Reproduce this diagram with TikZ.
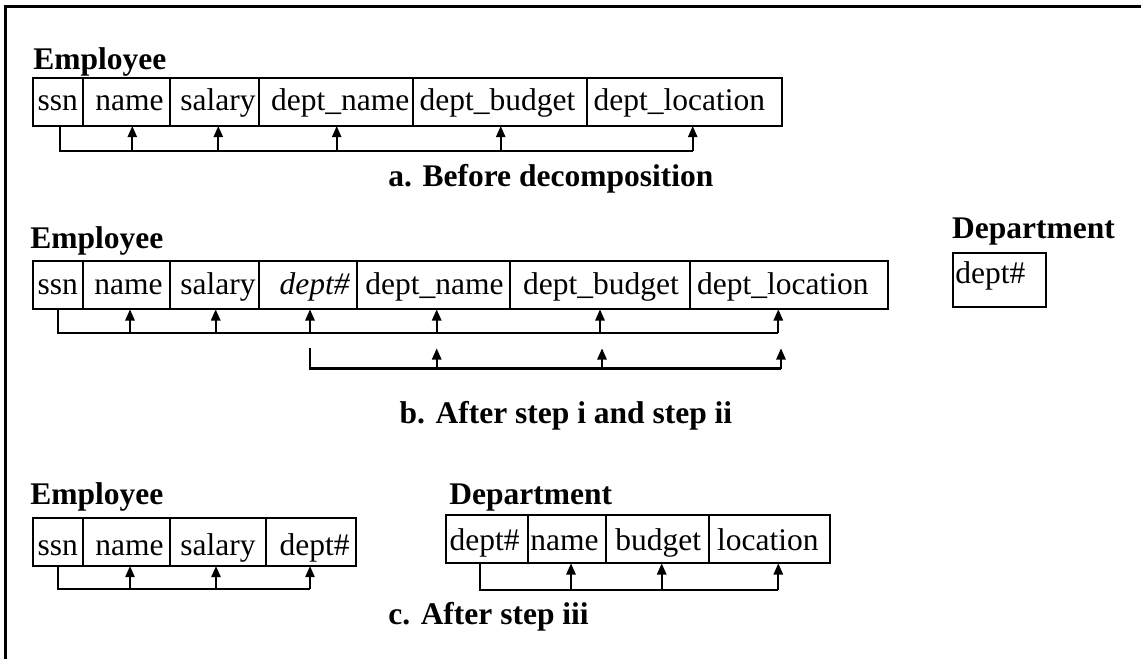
\documentclass[tikz,border=0pt]{standalone}
\usepackage{fontspec}
\setmainfont{Liberation Serif}
\usetikzlibrary{fit,arrows.meta}
\begin{document}
\begin{tikzpicture}[x=0.5pt,y=-0.5pt,
 cell/.style={draw, line width=1.1pt, inner sep=0pt},
 txt/.style={inner sep=0pt, anchor=base west, font=\fontsize{15.75}{18}\selectfont},
 ttl/.style={inner sep=0pt, anchor=base west, font=\fontsize{15.75}{18}\selectfont\bfseries},
 fd/.style={line width=1.05pt},
 fda/.style={line width=1.05pt, -{Triangle[width=4.6pt,length=5.6pt]}},
 framestyle/.style={line width=1.5pt}]
\useasboundingbox (0,0) rectangle (1141,659);
\draw[framestyle] (5,659) -- (5,6) -- (1141,6);

% ---------- a ----------
\node[ttl] (ta) at (33,69.3) {Employee};
\node[cell, fit={(33.3,78) (83.3,126)}] (a1) {};
\node[cell, fit={(83.3,78) (170,126)}] (a2) {};
\node[cell, fit={(170,78) (259.3,126)}] (a3) {};
\node[cell, fit={(259.3,78) (412.7,126)}] (a4) {};
\node[cell, fit={(412.7,78) (586.7,126)}] (a5) {};
\node[cell, fit={(586.7,78) (781.7,126)}] (a6) {};
\node[txt] (xa1) at (37.3,110.7) {ssn};
\node[txt] (xa2) at (95,110.7) {name};
\node[txt] (xa3) at (180,110.7) {salary};
\node[txt] (xa4) at (270.7,110.7) {dept\_name};
\node[txt] (xa5) at (419.3,110.7) {dept\_budget};
\node[txt] (xa6) at (593.3,110.7) {dept\_location};
\coordinate (abus) at (60,151);
\coordinate (pa1) at (60,126);
\coordinate (pa2) at (132.3,126);
\coordinate (pa3) at (218.3,126);
\coordinate (pa4) at (336.7,126);
\coordinate (pa5) at (500.7,126);
\coordinate (pa6) at (692.7,126);
\draw[fd] (pa1) -- (pa1 |- abus) -- (pa6 |- abus);
\foreach \i in {2,...,6} \draw[fda] (pa\i |- abus) -- (pa\i);
\node[ttl] (capa) at (388,186.7) {a. Before decomposition};

% ---------- b ----------
\node[ttl] (tb) at (30,248.3) {Employee};
\node[cell, fit={(33.3,261) (83.3,309.3)}] (b1) {};
\node[cell, fit={(83.3,261) (170,309.3)}] (b2) {};
\node[cell, fit={(170,261) (259.3,309.3)}] (b3) {};
\node[cell, fit={(259.3,261) (356.7,309.3)}] (b4) {};
\node[cell, fit={(356.7,261) (510,309.3)}] (b5) {};
\node[cell, fit={(510,261) (690,309.3)}] (b6) {};
\node[cell, fit={(690,261) (887.7,309.3)}] (b7) {};
\node[txt] (xb1) at (37.3,294) {ssn};
\node[txt] (xb2) at (94,294) {name};
\node[txt] (xb3) at (180,294) {salary};
\node[txt] (xb4) at (279.3,294) {\itshape dept\#};
\node[txt] (xb5) at (365,294) {dept\_name};
\node[txt] (xb6) at (522.7,294) {dept\_budget};
\node[txt] (xb7) at (696.7,294) {dept\_location};
\coordinate (bbus) at (58.3,333.3);
\coordinate (pb1) at (58.3,309.3);
\coordinate (pb2) at (130,309.3);
\coordinate (pb3) at (215.7,309.3);
\coordinate (pb4) at (310,309.3);
\coordinate (pb5) at (436.7,309.3);
\coordinate (pb6) at (600,309.3);
\coordinate (pb7) at (778.3,309.3);
\draw[fd] (pb1) -- (pb1 |- bbus) -- (pb7 |- bbus);
\foreach \i in {2,...,7} \draw[fda] (pb\i |- bbus) -- (pb\i);
\coordinate (cbus) at (310,368.5);
\coordinate (qb1) at (310,348.3);
\coordinate (qb2) at (436.7,348.3);
\coordinate (qb3) at (602,348.3);
\coordinate (qb4) at (781,348.3);
\draw[fd] (qb1) -- (qb1 |- cbus) -- (qb4 |- cbus);
\foreach \i in {2,...,4} \draw[fda] (qb\i |- cbus) -- (qb\i);
\node[ttl] (capb) at (399.3,423.3) {b. After step i and step ii};

\node[ttl] (td) at (951.7,238.3) {Department};
\node[cell, fit={(952.7,252.7) (1045.7,307.3)}] (d1) {};
\node[txt] (xd1) at (955,283) {dept\#};

% ---------- c ----------
\node[ttl] (tc) at (30,504) {Employee};
\node[cell, fit={(33.3,517.7) (83.3,566)}] (c1) {};
\node[cell, fit={(83.3,517.7) (170,566)}] (c2) {};
\node[cell, fit={(170,517.7) (266,566)}] (c3) {};
\node[cell, fit={(266,517.7) (356,566)}] (c4) {};
\node[txt] (xc1) at (37.3,555) {ssn};
\node[txt] (xc2) at (95,555) {name};
\node[txt] (xc3) at (180,555) {salary};
\node[txt] (xc4) at (279.3,555) {dept\#};
\coordinate (ebus) at (57.7,589.3);
\coordinate (pc1) at (57.7,566);
\coordinate (pc2) at (130,566);
\coordinate (pc3) at (216,566);
\coordinate (pc4) at (310,566);
\draw[fd] (pc1) -- (pc1 |- ebus) -- (pc4 |- ebus);
\foreach \i in {2,...,4} \draw[fda] (pc\i |- ebus) -- (pc\i);

\node[ttl] (te) at (449,504) {Department};
\node[cell, fit={(446,515) (528.3,563.3)}] (e1) {};
\node[cell, fit={(528.3,515) (606,563.3)}] (e2) {};
\node[cell, fit={(606,515) (709.3,563.3)}] (e3) {};
\node[cell, fit={(709.3,515) (830,563.3)}] (e4) {};
\node[txt] (xe1) at (449.3,550) {dept\#};
\node[txt] (xe2) at (530,550) {name};
\node[txt] (xe3) at (615,550) {budget};
\node[txt] (xe4) at (716.7,550) {location};
\coordinate (fbus) at (480,590);
\coordinate (pe1) at (480,563.3);
\coordinate (pe2) at (571,563.3);
\coordinate (pe3) at (661.7,563.3);
\coordinate (pe4) at (778.3,563.3);
\draw[fd] (pe1) -- (pe1 |- fbus) -- (pe4 |- fbus);
\foreach \i in {2,...,4} \draw[fda] (pe\i |- fbus) -- (pe\i);

\node[ttl] (capc) at (388,624) {c. After step iii};
\end{tikzpicture}
\end{document}
